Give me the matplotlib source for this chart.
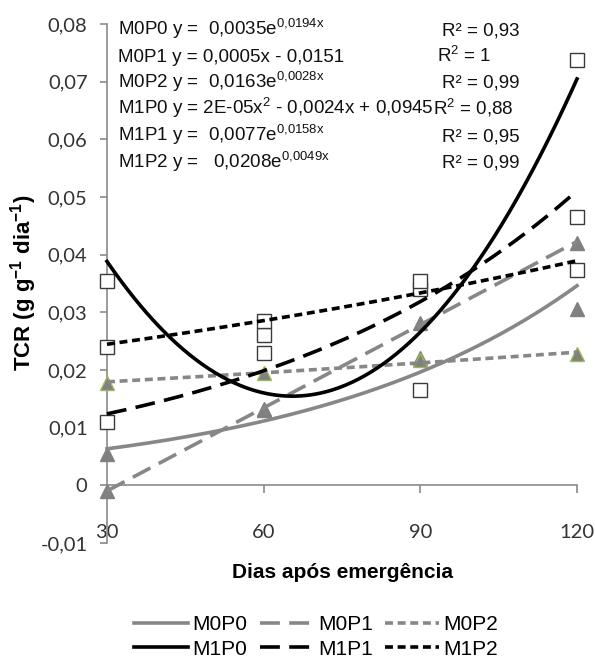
import numpy as np
import matplotlib
matplotlib.use("Agg")
import matplotlib.pyplot as plt
from matplotlib.lines import Line2D

plt.rcParams["mathtext.fontset"] = "custom"
plt.rcParams["mathtext.rm"] = "Liberation Sans"
plt.rcParams["mathtext.it"] = "Liberation Sans:italic"
plt.rcParams["mathtext.bf"] = "Liberation Sans:bold"

# Days after emergence
dias = [30, 60, 90, 120]

# Relative growth rate (TCR) per treatment
m0p0 = [0.0055, 0.0130, 0.0220, 0.0305]
m0p1 = [-0.0010, 0.0133, 0.0282, 0.0421]
m0p2 = [0.0178, 0.0195, 0.0218, 0.0227]
m1p0 = [0.0355, 0.0260, 0.0166, 0.0738]
m1p1 = [0.0110, 0.0230, 0.0340, 0.0466]
m1p2 = [0.0240, 0.0285, 0.0355, 0.0374]

series_names = ["M0P0", "M0P1", "M0P2", "M1P0", "M1P1", "M1P2"]
series_values = [m0p0, m0p1, m0p2, m1p0, m1p1, m1p2]
trend_kind = ["exp", "lin", "exp", "poly2", "exp", "exp"]

equations = [
    r"M0P0 y =  0,0035e$^{\mathregular{0{,}0194x}}$",
    r"M0P1 y = 0,0005x - 0,0151",
    r"M0P2 y =  0,0163e$^{\mathregular{0{,}0028x}}$",
    r"M1P0 y = 2E-05x$^{\mathregular{2}}$ - 0,0024x + 0,0945",
    r"M1P1 y =  0,0077e$^{\mathregular{0{,}0158x}}$",
    r"M1P2 y =   0,0208e$^{\mathregular{0{,}0049x}}$",
]
r2_labels = ["R² = 0,93", r"R$^{\mathregular{2}}$ = 1", "R² = 0,99",
             r"R$^{\mathregular{2}}$ = 0,88", "R² = 0,95", "R² = 0,99"]

yticks = [-0.01, 0, 0.01, 0.02, 0.03, 0.04, 0.05, 0.06, 0.07, 0.08]
ytick_labels = ["-0,01", "0", "0,01", "0,02", "0,03", "0,04", "0,05", "0,06", "0,07", "0,08"]
xticks = [30, 60, 90, 120]
xtick_labels = ["30", "60", "90", "120"]

GRAY = "#878787"
BLACK = "#000000"
AXIS = "#8a8a8a"
GREEN = "#9bbb59"

W, H = 595, 658
fig = plt.figure(figsize=(W / 100, H / 100), dpi=100)
ax = fig.add_axes([107 / W, 1 - 543 / H, 470 / W, 519 / H])
ax.set_xlim(30, 120)
ax.set_ylim(-0.01, 0.08)

for s in ["top", "right"]:
    ax.spines[s].set_visible(False)
ax.spines["left"].set_color(AXIS)
ax.spines["bottom"].set_color(AXIS)
ax.spines["left"].set_linewidth(1.2)
ax.spines["bottom"].set_linewidth(1.2)
ax.spines["bottom"].set_position(("data", 0))

ax.set_yticks(yticks)
ax.set_yticklabels(ytick_labels, family=["Lato", "DejaVu Sans"], fontsize=14.5, color="#333333")
ax.set_xticks(xticks)
ax.set_xticklabels(xtick_labels, family=["Lato", "DejaVu Sans"], fontsize=14.5, color="#333333")
ax.tick_params(axis="y", direction="out", length=5, width=1.2, color=AXIS, pad=9)
ax.tick_params(axis="x", direction="out", length=6, width=1.2, color=AXIS, pad=22)

# markers: M0 series as grey triangles, M1 series as open squares
marker_style = {
    "M0P0": dict(marker="^", mfc="#808080", mec="#808080"),
    "M0P1": dict(marker="^", mfc="#808080", mec="#808080"),
    "M0P2": dict(marker="^", mfc="#808080", mec=GREEN),
    "M1P0": dict(marker="s", mfc="white", mec="#3a3a3a"),
    "M1P1": dict(marker="s", mfc="white", mec="#3a3a3a"),
    "M1P2": dict(marker="s", mfc="white", mec="#3a3a3a"),
}
line_style = {
    "M0P0": dict(color=GRAY, linestyle="-"),
    "M0P1": dict(color=GRAY, linestyle=(0, (5.5, 2.6))),
    "M0P2": dict(color=GRAY, linestyle=(0, (2.2, 1.3))),
    "M1P0": dict(color=BLACK, linestyle="-"),
    "M1P1": dict(color=BLACK, linestyle=(0, (5.5, 2.6))),
    "M1P2": dict(color=BLACK, linestyle=(0, (2.2, 1.3))),
}

x = np.array(dias, dtype=float)
xs = np.linspace(30, 120, 300)
for name, vals in zip(series_names, series_values):
    ms = marker_style[name]
    ax.plot(x, vals, linestyle="none", marker=ms["marker"], markersize=10.5,
            markerfacecolor=ms["mfc"], markeredgecolor=ms["mec"],
            markeredgewidth=1.0, clip_on=False, zorder=3)

# trend lines fitted to each series
for name, vals, kind in zip(series_names, series_values, trend_kind):
    y = np.array(vals)
    if kind == "exp":
        b, lna = np.polyfit(x, np.log(y), 1)
        ys = np.exp(lna) * np.exp(b * xs)
    elif kind == "lin":
        ys = np.polyval(np.polyfit(x, y, 1), xs)
    else:
        ys = np.polyval(np.polyfit(x, y, 2), xs)
    ax.plot(xs, ys, linewidth=2.6, clip_on=False, zorder=4, **line_style[name])

# equations and R² values
eq_font = dict(family=["Liberation Sans", "DejaVu Sans"], fontsize=13.5, color="#111111")
r2_x = [442, 437, 442, 433, 442, 442]
for i, (eq, r2) in enumerate(zip(equations, r2_labels)):
    yb = 1 - (35 + 26.5 * i) / H
    fig.text(118 / W, yb, eq, va="baseline", ha="left", **eq_font)
    fig.text(r2_x[i] / W, yb, r2, va="baseline", ha="left", **eq_font)

lab_font = dict(family=["Liberation Sans", "DejaVu Sans"], fontweight="bold")
fig.text(342 / W, 1 - 572 / H, "Dias após emergência", ha="center", va="center",
         fontsize=15, **lab_font)
fig.text(24 / W, 1 - 283 / H, r"TCR (g g$^{\mathbf{-1}}$ dia$^{\mathbf{-1}}$)",
         ha="center", va="center", rotation=90, fontsize=16, **lab_font)

# legend filled row by row: M0 series on top, M1 series below
order = [0, 3, 1, 4, 2, 5]
handles = [Line2D([], [], linewidth=2.6, **line_style[series_names[k]]) for k in order]
labels = [series_names[k] for k in order]
fig.legend(handles, labels, ncol=3, loc="center",
           bbox_to_anchor=(316 / W, 1 - 637 / H), frameon=False,
           prop=dict(family="Liberation Sans", size=15),
           handlelength=2.6, handletextpad=0.2, columnspacing=0.6,
           labelspacing=0.25, borderpad=0.2)

fig.savefig("out.png", dpi=100)
